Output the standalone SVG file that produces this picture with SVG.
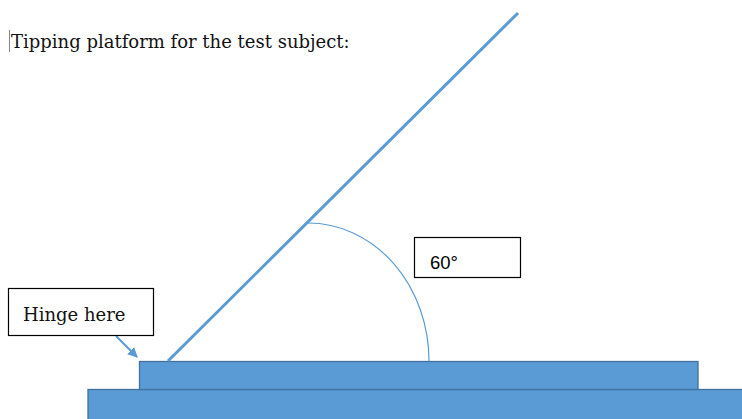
<svg xmlns="http://www.w3.org/2000/svg" width="742" height="419" viewBox="0 0 742 419">
<defs>
<style>
.plat{fill:#5B9BD5;stroke:#41719C;stroke-width:1.3}
.box{fill:#fff;stroke:#000;stroke-width:1.2}
.serif{font-family:"DejaVu Serif","Liberation Serif",serif;fill:#111}
.sans{font-family:"Liberation Sans",Arial,sans-serif;fill:#000}
.conn{fill:none;stroke:#5B9BD5}
</style>
<marker id="ah" viewBox="0 0 10 10" refX="9" refY="5" markerWidth="10" markerHeight="10" markerUnits="userSpaceOnUse" orient="auto">
<path d="M0,0 L10,5 L0,10 z" fill="#5B9BD5"/>
</marker>
</defs>
<rect width="742" height="419" fill="#fff"/>
<line x1="9.5" y1="30" x2="9.5" y2="52" stroke="#888" stroke-width="1"/>
<text class="serif" x="11" y="48" font-size="18">Tipping platform for the test subject:</text>
<g id="base"><rect class="plat" x="88" y="389.5" width="660" height="35"/></g>
<g id="platform"><rect class="plat" x="139.5" y="361.5" width="558.5" height="28"/></g>
<g id="connectors">
<line class="conn" x1="168" y1="361" x2="518" y2="13" stroke-width="3"/>
<path class="conn" d="M308,223 A121,138 0 0 1 429,361" stroke-width="1.2"/>
<line class="conn" x1="116" y1="336" x2="137" y2="357" stroke-width="2" marker-end="url(#ah)"/>
</g>
<g id="hinge"><rect class="box" x="8.5" y="288.5" width="145" height="47"/><text class="serif" x="23" y="321" font-size="18">Hinge here</text></g>
<g id="angle"><rect class="box" x="414.5" y="237.5" width="106" height="40"/><text class="sans" x="430" y="268.5" font-size="18.5">60°</text></g>
</svg>
